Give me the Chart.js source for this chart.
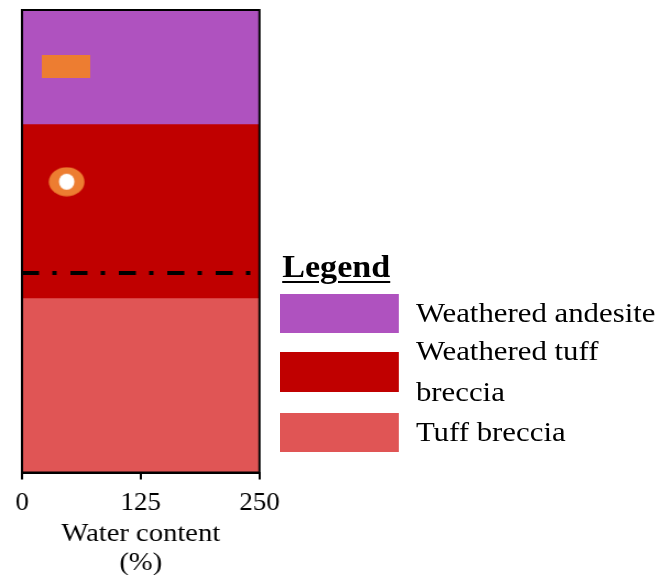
<!DOCTYPE html>
<html>
<head>
<meta charset="utf-8">
<script src="https://cdn.jsdelivr.net/npm/chart.js@4"></script>
<style>
  html, body { margin: 0; padding: 0; background: #fff; }
  #wrap { position: relative; width: 669px; height: 575px; overflow: hidden; }
  /* the figure is drawn slightly wider than tall, as in the printed version */
  #c { position: absolute; left: 0; top: 0; transform: scaleX(1.1003); transform-origin: 0 0; }
  #legend { position: absolute; left: 280px; top: 0; width: 360px; height: 575px; transform: scaleX(1.1003); transform-origin: 0 0;
            font-family: "Liberation Serif", "Times New Roman", serif; color: #000; }
  .lg-title { position: absolute; left: 2px; top: 249px; font-weight: bold; font-size: 31px; line-height: 36px;
              text-decoration: underline; text-decoration-thickness: 2px; text-underline-offset: 4px; white-space: nowrap; }
  .sw { position: absolute; left: 0; width: 108px; }
  .lb { position: absolute; left: 123.5px; font-size: 28px; line-height: 41px; white-space: nowrap; }
</style>
</head>
<body>
<div id="wrap">
  <canvas id="c" width="608" height="575"></canvas>
  <div id="legend"></div>
</div>
<script>
// Soil layers (depth in m, top to bottom)
const layerNames   = ['Weathered andesite', 'Weathered tuff breccia', 'Tuff breccia'];
const legendLines  = [['Weathered andesite'], ['Weathered tuff', 'breccia'], ['Tuff breccia']];
const layerTop     = [0, 1.97, 4.98];
const layerBottom  = [1.97, 4.98, 8];
const layerColors  = ['#AF52BF', '#C00000', '#E05555'];

// Water content axis
const xTicks = [0, 125, 250];

// Groundwater level (m)
const waterLevel = [4.55];

// Measured water content (%) and sample depth (m)
const rectWater   = [46];
const rectDepth   = [0.97];
const circleWater = [47];
const circleDepth = [2.97];

const FONT = '"Liberation Serif", "Times New Roman", serif';

function rectMarker() {
  const c = document.createElement('canvas');
  c.width = 44; c.height = 23;
  const g = c.getContext('2d');
  g.fillStyle = '#ED7D31';
  g.fillRect(0, 0, 44, 23);
  return c;
}
function ringMarker() {
  const c = document.createElement('canvas');
  c.width = 33; c.height = 30;
  const g = c.getContext('2d');
  g.fillStyle = '#ED7D31';
  g.beginPath(); g.ellipse(16.5, 15, 16.2, 14.6, 0, 0, Math.PI * 2); g.fill();
  g.fillStyle = '#FFFFFF';
  g.beginPath(); g.ellipse(16.5, 15, 7, 8, 0, 0, Math.PI * 2); g.fill();
  return c;
}

const frame = {
  id: 'frame',
  afterDatasetsDraw(chart) {
    const { ctx, chartArea: a } = chart;
    ctx.save();
    ctx.strokeStyle = '#000';
    ctx.lineWidth = 2;
    ctx.strokeRect(a.left, a.top, a.right - a.left, a.bottom - a.top);
    ctx.restore();
  }
};

const bandSets = layerNames.map((name, i) => ({
  type: 'bar',
  label: name,
  data: [[layerTop[i], layerBottom[i]]],
  backgroundColor: layerColors[i],
  borderWidth: 0,
  xAxisID: 'xb',
  yAxisID: 'y',
  grouped: false,
  barPercentage: 1,
  categoryPercentage: 1,
  order: 10
}));

new Chart(document.getElementById('c'), {
  type: 'bar',
  data: {
    datasets: [
      {
        type: 'scatter',
        label: 'rect',
        data: rectWater.map((v, i) => ({ x: v, y: rectDepth[i] })),
        pointStyle: rectMarker(),
        xAxisID: 'x', yAxisID: 'y',
        order: 1
      },
      {
        type: 'scatter',
        label: 'ring',
        data: circleWater.map((v, i) => ({ x: v, y: circleDepth[i] })),
        pointStyle: ringMarker(),
        xAxisID: 'x', yAxisID: 'y',
        order: 1
      },
      {
        type: 'line',
        label: 'GWL',
        data: [{ x: xTicks[0], y: waterLevel[0] }, { x: xTicks[xTicks.length - 1], y: waterLevel[0] }],
        borderColor: '#000',
        borderWidth: 4,
        borderDash: [15.5, 12, 4, 12.5],
        borderCapStyle: 'butt',
        pointRadius: 0,
        xAxisID: 'x', yAxisID: 'y',
        order: 2
      },
      ...bandSets
    ]
  },
  options: {
    responsive: false,
    animation: false,
    devicePixelRatio: 1,
    layout: { padding: { left: 20, right: 372.2, top: 10, bottom: 0 } },
    plugins: { legend: { display: false }, tooltip: { enabled: false } },
    scales: {
      x: {
        type: 'linear',
        position: 'bottom',
        offset: false,
        min: xTicks[0],
        max: xTicks[xTicks.length - 1],
        afterBuildTicks: s => { s.ticks = xTicks.map(v => ({ value: v })); },
        afterFit: s => { s.height = 102.5; },
        ticks: { color: '#000', font: { family: FONT, size: 24.5 }, padding: 9, maxRotation: 0 },
        grid: { offset: false, drawOnChartArea: false, drawTicks: true, tickLength: 7, color: '#000', lineWidth: 2 },
        border: { display: true, color: '#000', width: 2 },
        title: {
          display: true,
          text: ['Water content', '(%)'],
          color: '#000',
          font: { family: FONT, size: 26, lineHeight: 29 / 26 },
          padding: { top: 0, bottom: -3 }
        }
      },
      xb: { type: 'category', labels: [''], display: false, offset: true },
      y: { type: 'linear', reverse: true, min: layerTop[0], max: layerBottom[layerBottom.length - 1], display: false }
    }
  },
  plugins: [frame]
});

// Legend built from the layer arrays
const lg = document.getElementById('legend');
const title = document.createElement('div');
title.className = 'lg-title';
title.textContent = 'Legend';
lg.appendChild(title);
const swTop = [294, 352, 413];
const swH = [39, 40, 39];
const lbTop = [292, 330, 411];
layerNames.forEach((name, i) => {
  const s = document.createElement('div');
  s.className = 'sw';
  s.style.top = swTop[i] + 'px';
  s.style.height = swH[i] + 'px';
  s.style.background = layerColors[i];
  lg.appendChild(s);
  const t = document.createElement('div');
  t.className = 'lb';
  t.style.top = lbTop[i] + 'px';
  t.innerHTML = legendLines[i].join('<br>');
  lg.appendChild(t);
});
</script>
</body>
</html>
